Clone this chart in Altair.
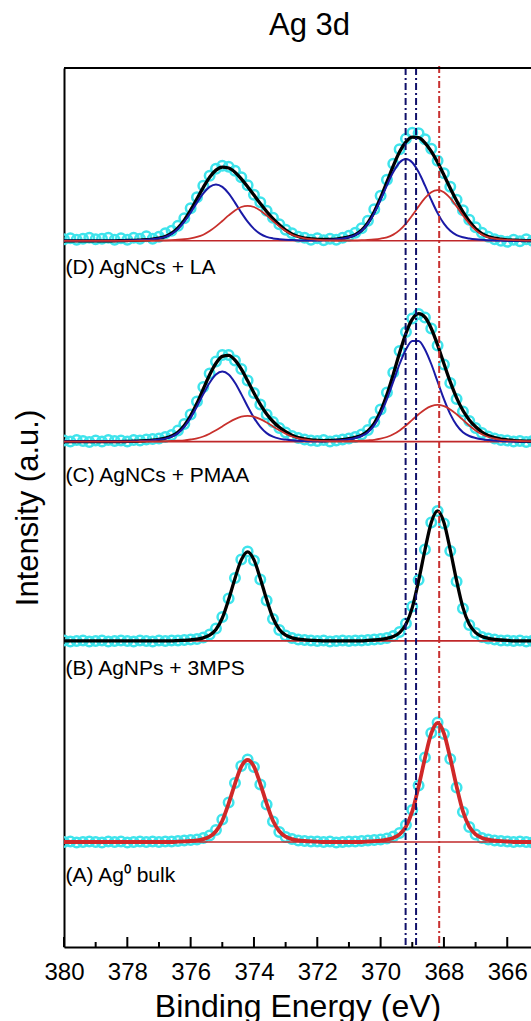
import altair as alt
import pandas as pd

# ---- binding-energy grid (eV) shared by all series ----
energy = [380.0, 379.8, 379.6, 379.4, 379.2, 379.0, 378.8, 378.6, 378.4, 378.2,
          378.0, 377.8, 377.6, 377.4, 377.2, 377.0, 376.8, 376.6, 376.4, 376.2,
          376.0, 375.8, 375.6, 375.4, 375.2, 375.0, 374.8, 374.6, 374.4, 374.2,
          374.0, 373.8, 373.6, 373.4, 373.2, 373.0, 372.8, 372.6, 372.4, 372.2,
          372.0, 371.8, 371.6, 371.4, 371.2, 371.0, 370.8, 370.6, 370.4, 370.2,
          370.0, 369.8, 369.6, 369.4, 369.2, 369.0, 368.8, 368.6, 368.4, 368.2,
          368.0, 367.8, 367.6, 367.4, 367.2, 367.0, 366.8, 366.6, 366.4, 366.2,
          366.0, 365.8, 365.6, 365.4, 365.2, 365.0]

# ---- (A) Ag0 bulk ----
A_data = [0.0, 0.5, -0.5, 0.0, 0.5, 0.0, -0.5, 0.5, 0.0, 0.5,
          -0.5, 0.0, 0.5, 0.0, 0.5, 0.0, 0.5, 0.5, 1.0, 1.5,
          2.0, 2.5, 4.0, 6.5, 12.0, 22.5, 39.5, 59.0, 76.0, 82.5,
          75.0, 57.5, 37.5, 20.5, 10.0, 5.0, 3.0, 1.5, 1.0, 0.5,
          0.5, 0.0, 0.5, -0.5, 0.0, 0.5, 0.5, 1.0, 1.5, 2.0,
          2.5, 3.5, 5.5, 9.0, 17.0, 32.0, 56.5, 84.5, 109.0, 119.5,
          108.0, 83.0, 54.5, 30.0, 15.0, 7.5, 4.0, 2.5, 1.5, 1.0,
          0.5, 0.0, 0.5, 0.0, -0.5, 0.5]
A_fit = [0, 0, 0, 0, 0, 0, 0, 0, 0, 0,
         0, 0, 0, 0, 0, 0, 0, 0, 0.3, 0.6,
         1.0, 1.6, 2.9, 5.3, 10.7, 21.3, 38.5, 58.2, 75.4, 82.0,
         75.4, 58.2, 38.5, 21.3, 10.7, 5.3, 2.9, 1.6, 1.0, 0.6,
         0.3, 0, 0, 0, 0, 0, 0, 0, 0.5, 0.8,
         1.4, 2.4, 4.1, 7.7, 15.3, 30.7, 55.5, 83.8, 108.6, 119.0,
         108.6, 83.8, 55.5, 30.7, 15.3, 7.7, 4.1, 2.4, 1.4, 0.8,
         0.5, 0, 0, 0, 0, 0]

# ---- (B) AgNPs + 3MPS ----
B_data = [0.5, -0.5, 0.0, 0.5, -0.5, 0.0, 0.5, -0.5, 0.0, 0.5,
          0.0, -0.5, 0.5, 0.0, -0.5, 0.5, 0.0, 0.5, 0.5, 1.0,
          1.5, 2.0, 3.5, 6.5, 12.5, 24.0, 42.5, 63.0, 81.5, 89.5,
          80.5, 61.5, 40.5, 22.0, 11.0, 5.5, 3.0, 1.5, 1.0, 0.5,
          0.0, 0.5, -0.5, 0.0, 0.5, 0.0, 0.5, 0.5, 1.0, 1.5,
          2.0, 3.0, 5.0, 9.0, 17.5, 34.5, 61.0, 91.5, 118.5, 130.0,
          117.5, 90.0, 59.5, 32.5, 16.0, 8.0, 4.0, 2.5, 1.5, 0.5,
          0.5, 0.0, 0.5, -0.5, 0.0, 0.5]
B_fit = [0, 0, 0, 0, 0, 0, 0, 0, 0, 0,
         0, 0, 0, 0, 0, 0, 0, 0, 0.35, 0.6,
         1.1, 1.8, 3.1, 5.7, 11.4, 22.9, 41.4, 62.5, 81.0, 89.0,
         81.0, 62.5, 41.4, 22.9, 11.4, 5.7, 3.1, 1.8, 1.1, 0.6,
         0.35, 0, 0, 0, 0, 0, 0, 0, 0.5, 0.9,
         1.5, 2.6, 4.5, 8.3, 16.6, 33.3, 60.2, 90.9, 118.5, 130.0,
         118.5, 90.9, 60.2, 33.3, 16.6, 8.3, 4.5, 2.6, 1.5, 0.9,
         0.5, 0, 0, 0, 0, 0]

# ---- (C) AgNCs + PMAA ----
C_data = [1.0, 0.0, 1.5, 0.5, -0.5, 1.0, 0.0, 1.5, 0.5, 1.0,
          0.0, 1.5, 1.0, 2.0, 2.5, 3.0, 4.5, 6.5, 11.0, 17.5,
          27.0, 40.0, 54.5, 68.0, 80.0, 86.5, 86.5, 81.0, 72.5, 61.0,
          48.5, 37.0, 27.0, 19.5, 13.5, 9.0, 5.5, 3.5, 2.0, 1.0,
          0.5, 1.5, 0.0, 1.0, 2.0, 3.0, 4.5, 7.0, 11.5, 19.5,
          32.0, 49.0, 69.0, 90.5, 109.5, 123.0, 127.5, 124.0, 113.0, 96.0,
          77.0, 58.5, 42.5, 30.0, 20.5, 13.5, 8.5, 5.0, 3.0, 1.5,
          1.0, 0.0, 0.5, -0.5, 0.5, 0.0]
C_blue = [0, 0, 0, 0, 0, 0, 0, 0, 0, 0,
          0.21, 0.35, 0.56, 0.84, 1.26, 2.0, 3.0, 4.9, 8.5, 14.8,
          23.7, 35.1, 47.5, 58.9, 67.1, 70.0, 67.1, 58.9, 47.5, 35.1,
          23.7, 14.8, 8.5, 4.9, 3.0, 2.0, 1.26, 0.84, 0.56, 0.35,
          0.41, 0.4, 0.66, 1.0, 1.5, 2.3, 3.6, 5.6, 9.4, 16.5,
          27.5, 42.4, 59.9, 77.6, 92.2, 100.7, 100.7, 92.2, 77.6, 59.9,
          42.4, 27.5, 16.5, 9.4, 5.6, 3.6, 2.3, 1.5, 1.0, 0.66,
          0.4, 0.2, 0, 0, 0, 0]
C_red = [0, 0, 0, 0, 0, 0, 0, 0, 0, 0,
         0, 0, 0.08, 0.13, 0.21, 0.31, 0.44, 0.64, 0.9, 1.3,
         2.1, 3.2, 5.1, 7.9, 11.3, 15.2, 19.1, 22.5, 24.9, 25.7,
         24.9, 22.5, 19.1, 15.2, 11.3, 7.9, 5.1, 3.2, 2.1, 1.3,
         0.9, 0.64, 0.55, 0.49, 0.5, 0.57, 0.7, 0.9, 1.3, 1.8,
         2.9, 4.6, 7.3, 11.2, 16.1, 21.7, 27.3, 32.2, 35.5, 36.7,
         35.5, 32.2, 27.3, 21.7, 16.1, 11.2, 7.3, 4.6, 2.9, 1.8,
         1.3, 0.9, 0.62, 0.44, 0.29, 0.18]
C_fit = [0, 0, 0, 0, 0, 0, 0, 0, 0, 0,
         0.21, 0.35, 0.64, 0.97, 1.47, 2.31, 3.44, 5.54, 9.4, 16.1,
         25.8, 38.3, 52.6, 66.8, 78.4, 85.2, 86.2, 81.4, 72.4, 60.8,
         48.6, 37.3, 27.6, 20.1, 14.3, 9.9, 6.36, 4.04, 2.66, 1.65,
         1.31, 1.04, 1.21, 1.49, 2.0, 2.87, 4.3, 6.5, 10.7, 18.3,
         30.4, 47.0, 67.2, 88.8, 108.3, 122.4, 128.0, 124.4, 113.1, 96.6,
         77.9, 59.7, 43.8, 31.1, 21.7, 14.8, 9.6, 6.1, 3.9, 2.46,
         1.7, 1.1, 0.62, 0.44, 0.29, 0.18]

# ---- (D) AgNCs + LA ----
D_data = [1.5, 2.5, 1.0, 2.0, 3.0, 1.5, 2.0, 3.0, 1.0, 2.5,
          1.0, 3.0, 2.0, 4.5, 2.0, 4.0, 7.5, 10.0, 15.0, 22.5,
          32.5, 43.5, 55.0, 65.0, 72.0, 75.0, 74.0, 70.0, 63.5, 55.5,
          46.0, 38.5, 30.0, 23.0, 16.5, 11.0, 7.5, 4.0, 3.0, 1.0,
          2.5, 0.5, 2.0, 1.0, 3.0, 5.0, 8.0, 12.5, 20.0, 31.5,
          45.0, 61.0, 77.0, 91.5, 102.0, 108.0, 107.5, 101.5, 92.0, 80.0,
          67.5, 54.0, 41.0, 30.5, 21.0, 13.5, 8.0, 4.0, 1.5, 0.0,
          -1.0, 1.0, -0.5, 1.5, 0.0, 1.0]
D_blue = [0, 0, 0, 0, 0, 0, 0, 0, 0, 0.17,
          0.3, 0.45, 0.7, 1.0, 1.6, 2.4, 3.9, 6.9, 11.9, 19.1,
          28.2, 38.2, 47.4, 53.9, 56.3, 53.9, 47.4, 38.2, 28.2, 19.1,
          11.9, 6.9, 3.9, 2.4, 1.6, 1.0, 0.7, 0.45, 0.3, 0.42,
          0.4, 0.65, 1.0, 1.5, 2.3, 3.5, 5.7, 10.0, 17.2, 27.7,
          40.9, 55.4, 68.7, 78.3, 81.7, 78.3, 68.7, 55.4, 40.9, 27.7,
          17.2, 10.0, 5.7, 3.5, 2.3, 1.5, 1.0, 0.65, 0.4, 0.25,
          0, 0, 0, 0, 0, 0]
D_red = [0, 0, 0, 0, 0, 0, 0, 0, 0, 0,
         0, 0, 0.07, 0.1, 0.18, 0.28, 0.46, 0.7, 1.05, 1.58,
         2.45, 3.85, 6.1, 9.7, 14.4, 19.8, 25.4, 30.4, 33.8, 35.0,
         33.8, 30.4, 25.4, 19.8, 14.4, 9.7, 6.1, 3.85, 2.45, 1.58,
         1.05, 0.7, 0.46, 0.28, 0.33, 0.35, 0.47, 0.6, 0.9, 1.4,
         2.2, 3.5, 6.2, 10.7, 17.2, 25.4, 34.4, 42.6, 48.6, 50.7,
         48.6, 42.6, 34.4, 25.4, 17.2, 10.7, 6.2, 3.5, 2.2, 1.4,
         0.9, 0.6, 0.4, 0.25, 0.15, 0]
D_fit = [0, 0, 0, 0, 0, 0, 0, 0, 0, 0.17,
         0.3, 0.45, 0.77, 1.1, 1.78, 2.68, 4.36, 7.6, 12.95, 20.68,
         30.65, 42.05, 53.5, 63.6, 70.7, 73.7, 72.8, 68.6, 62.0, 54.1,
         45.7, 37.3, 29.3, 22.2, 16.0, 10.7, 6.8, 4.3, 2.75, 2.0,
         1.45, 1.35, 1.46, 1.78, 2.63, 3.85, 6.17, 10.6, 18.1, 29.1,
         43.1, 58.9, 74.9, 89.0, 98.9, 103.7, 103.1, 98.0, 89.5, 78.4,
         65.8, 52.6, 40.1, 28.9, 19.5, 12.2, 7.2, 4.15, 2.6, 1.65,
         0.9, 0.6, 0.4, 0.25, 0.15, 0]

# ---- stacking offsets (a.u.), panel labels ----
panels = ["A", "B", "C", "D"]
offsets = [105.0, 306.1, 505.4, 706.2]
labels = ["(A) Ag\u2070 bulk", "(B) AgNPs + 3MPS", "(C) AgNCs + PMAA", "(D) AgNCs + LA"]
label_y = [65.0, 272.0, 465.0, 673.0]
label_x = [380.0, 380.0, 380.0, 380.0]

navy_lines = [369.21, 368.88]
red_lines = [368.15]
major_ticks = [380, 378, 376, 374, 372, 370, 368, 366]
minor_ticks = [379, 377, 375, 373, 371, 369, 367]
x_domain = [365.25, 380]
y_domain = [0, 879]

W, H = 467, 879
FONT = "Liberation Sans"

data_sets = {"A": A_data, "B": B_data, "C": C_data, "D": D_data}
off = dict(zip(panels, offsets))


def frame(series_map):
    rows = []
    for name, (panel, vals) in series_map.items():
        for e, v in zip(energy, vals):
            rows.append({"E": e, "y": off[panel] + v, "series": name})
    return pd.DataFrame(rows)


df_pts = frame({k: (k, v) for k, v in data_sets.items()})
df_black = frame({"B": ("B", B_fit), "C": ("C", C_fit), "D": ("D", D_fit)})
df_blue = frame({"C": ("C", C_blue), "D": ("D", D_blue)})
df_red = frame({"C": ("C", C_red), "D": ("D", D_red)})
df_afit = frame({"A": ("A", A_fit)})
df_base = pd.DataFrame([{"E": e, "y": o, "series": p}
                        for p, o in zip(panels, offsets) for e in x_domain])
df_lab = pd.DataFrame({"E": label_x, "y": label_y, "text": labels})

x_axis = alt.Axis(values=major_ticks, format="d", ticks=False, tickSize=0, grid=False,
                  domain=True, domainColor="black", domainWidth=2,
                  labelFontSize=24, labelFont=FONT, labelColor="black", labelPadding=13,
                  labelFlush=False,
                  title="Binding Energy (eV)", titleFont=FONT, titleFontSize=32,
                  titleFontWeight="normal", titleColor="black", titlePadding=7)
y_axis = alt.Axis(labels=False, ticks=False, tickSize=0, grid=False,
                  domain=True, domainColor="black", domainWidth=2,
                  title="Intensity (a.u.)", titleFont=FONT, titleFontSize=31,
                  titleFontWeight="normal", titleColor="black", titlePadding=20)

xs = alt.Scale(domain=x_domain, reverse=True, nice=False, zero=False)
ys = alt.Scale(domain=y_domain, nice=False, zero=False)


def X(field="E"):
    return alt.X(f"{field}:Q", scale=xs, axis=x_axis)


def Y():
    return alt.Y("y:Q", scale=ys, axis=y_axis)


pts = alt.Chart(df_pts).mark_point(shape="circle", filled=False, size=90, strokeWidth=2.5,
                                   color="#3fe4ec", opacity=1, clip=True).encode(
    x=X(), y=Y(), detail="series:N")

base = alt.Chart(df_base).mark_line(color="#c0282a", strokeWidth=1.6, clip=True).encode(
    x=X(), y=Y(), detail="series:N")

black = alt.Chart(df_black).mark_line(color="black", strokeWidth=3.3, interpolate="monotone",
                                      clip=True).encode(
    x=X(), y=Y(), detail="series:N")

blue = alt.Chart(df_blue).mark_line(color="#1a1aa6", strokeWidth=2, interpolate="monotone",
                                    clip=True).encode(
    x=X(), y=Y(), detail="series:N")

red = alt.Chart(df_red).mark_line(color="#c8302c", strokeWidth=1.8, interpolate="monotone",
                                  clip=True).encode(
    x=X(), y=Y(), detail="series:N")

afit = alt.Chart(df_afit).mark_line(color="#d02828", strokeWidth=3.8, interpolate="monotone",
                                    clip=True).encode(
    x=X(), y=Y(), detail="series:N")

vnavy = alt.Chart(pd.DataFrame({"E": navy_lines})).mark_rule(
    color="#10106a", strokeWidth=2, strokeDash=[7, 3, 2, 3]).encode(
    x=X(), y=alt.value(0), y2=alt.value(H))

vred = alt.Chart(pd.DataFrame({"E": red_lines})).mark_rule(
    color="#c83030", strokeWidth=2, strokeDash=[7, 3, 2, 3]).encode(
    x=X(), y=alt.value(-2), y2=alt.value(H))

tmaj = alt.Chart(pd.DataFrame({"E": major_ticks})).mark_rule(color="black", strokeWidth=2).encode(
    x=X(), y=alt.value(H), y2=alt.value(H - 10))

tmin = alt.Chart(pd.DataFrame({"E": minor_ticks})).mark_rule(color="black", strokeWidth=2).encode(
    x=X(), y=alt.value(H), y2=alt.value(H - 5))

top = alt.Chart(pd.DataFrame({"E": [380]})).mark_rule(color="black", strokeWidth=2).encode(
    x=alt.value(0), x2=alt.value(W), y=alt.value(0))

labs = alt.Chart(df_lab).mark_text(align="left", baseline="alphabetic", dx=1.5,
                                   fontSize=21, font=FONT, color="black").encode(
    x=X(), y=Y(), text="text:N")

chart = alt.layer(pts, base, black, blue, red, afit, vnavy, vred, tmaj, tmin, top, labs).properties(
    width=W, height=H,
    title=alt.TitleParams("Ag 3d", font=FONT, fontSize=31, fontWeight="normal", color="black",
                          anchor="middle", dx=12, offset=23),
    padding={"left": 64, "top": 68, "right": 0, "bottom": 74},
    autosize=alt.AutoSizeParams(type="none"),
).configure_view(stroke=None).configure(background="white")

chart.save("out.html", embed_options={"renderer": "svg", "actions": False})
